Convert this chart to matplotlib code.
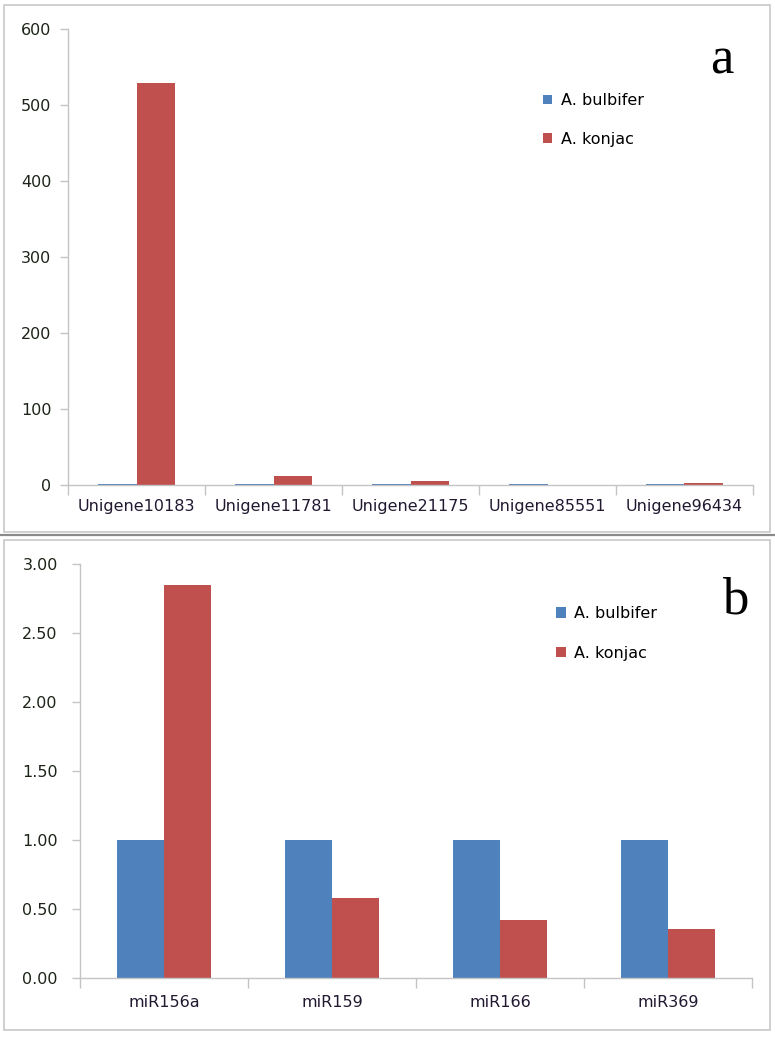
import matplotlib
matplotlib.use("Agg")
import matplotlib.pyplot as plt
import matplotlib.patches as mpatches
import numpy as np

# ---- data ----
genes = ["Unigene10183", "Unigene11781", "Unigene21175", "Unigene85551", "Unigene96434"]
bulbifer_a = [1, 1, 1, 1, 1]
konjac_a = [529, 12, 5, 0.2, 2]
yticks_a = [0, 100, 200, 300, 400, 500, 600]

mirnas = ["miR156a", "miR159", "miR166", "miR369"]
bulbifer_b = [1.0, 1.0, 1.0, 1.0]
konjac_b = [2.85, 0.58, 0.42, 0.355]
yticks_b = [0.0, 0.5, 1.0, 1.5, 2.0, 2.5, 3.0]

series_names = ["A. bulbifer", "A. konjac"]
BLUE = "#4F81BD"
RED = "#C0504D"
W, H = 775, 1038
FS = 11.5
plt.rcParams['font.family'] = ['DejaVu Sans']

fig = plt.figure(figsize=(W / 100, H / 100), dpi=100)

def fx(px):
    return px / W

def fy(py):
    return 1 - py / H

# panel frames
fig.patches.append(mpatches.Rectangle((fx(4), fy(532)), fx(766), 527 / H, transform=fig.transFigure,
                                      fill=False, edgecolor="#c8c8c8", linewidth=1.2))
fig.patches.append(mpatches.Rectangle((fx(4), fy(1030)), fx(766), 490 / H, transform=fig.transFigure,
                                      fill=False, edgecolor="#c8c8c8", linewidth=1.2))
fig.add_artist(plt.Line2D([fx(0), fx(775)], [fy(535), fy(535)], transform=fig.transFigure,
                          color="#8a8a8a", linewidth=1.6))


def style_axes(ax, ncat, yticks, fmt, ypad, xpad):
    for s in ["top", "right"]:
        ax.spines[s].set_visible(False)
    for s in ["left", "bottom"]:
        ax.spines[s].set_color("#c4c4c4")
        ax.spines[s].set_linewidth(1.0)
    ax.set_xlim(-0.5, ncat - 0.5)
    ax.set_ylim(yticks[0], yticks[-1])
    ax.set_yticks(yticks)
    ax.set_yticklabels([fmt(v) for v in yticks])
    ax.tick_params(axis="y", length=6, width=1.0, color="#c4c4c4", pad=ypad,
                   labelsize=FS, labelcolor="#1c2418")
    ax.set_xticks(np.arange(ncat))
    ax.set_xticks(np.arange(ncat + 1) - 0.5, minor=True)
    ax.tick_params(axis="x", which="major", length=0, pad=xpad, labelsize=FS, labelcolor="#221830")
    ax.tick_params(axis="x", which="minor", length=7, width=1.0, color="#c4c4c4")


bw = 0.28

# ---- panel a ----
axa = fig.add_axes([fx(68), fy(485), fx(753) - fx(68), fy(29) - fy(485)])
xa = np.arange(len(genes))
ba = axa.bar(xa - bw / 2, bulbifer_a, bw, color=BLUE, label=series_names[0])
ka = axa.bar(xa + bw / 2, konjac_a, bw, color=RED, label=series_names[1])
style_axes(axa, len(genes), yticks_a, lambda v: f"{v:d}", ypad=6, xpad=10)
axa.set_xticklabels(genes)
fig.text(fx(722), fy(73), "a", family="Liberation Serif", fontsize=38, ha="center", va="baseline")
axa.legend(handles=[ba, ka], loc="upper left", bbox_to_anchor=(fx(543), fy(93)),
           bbox_transform=fig.transFigure, frameon=False, fontsize=FS,
           handlelength=0.55, handleheight=0.55, handletextpad=0.55, labelspacing=1.5,
           borderpad=0, borderaxespad=0)

# ---- panel b ----
axb = fig.add_axes([fx(80), fy(978), fx(752) - fx(80), fy(564) - fy(978)])
xb = np.arange(len(mirnas))
bb = axb.bar(xb - bw / 2, bulbifer_b, bw, color=BLUE, label=series_names[0])
kb = axb.bar(xb + bw / 2, konjac_b, bw, color=RED, label=series_names[1])
style_axes(axb, len(mirnas), yticks_b, lambda v: f"{v:.2f}", ypad=10, xpad=12)
axb.set_xticklabels(mirnas)
fig.text(fx(735), fy(613), "b", family="Liberation Serif", fontsize=38, ha="center", va="baseline")
axb.legend(handles=[bb, kb], loc="upper left", bbox_to_anchor=(fx(556), fy(606)),
           bbox_transform=fig.transFigure, frameon=False, fontsize=FS,
           handlelength=0.65, handleheight=0.65, handletextpad=0.45, labelspacing=1.55,
           borderpad=0, borderaxespad=0)

fig.savefig("out.png", dpi=100)
